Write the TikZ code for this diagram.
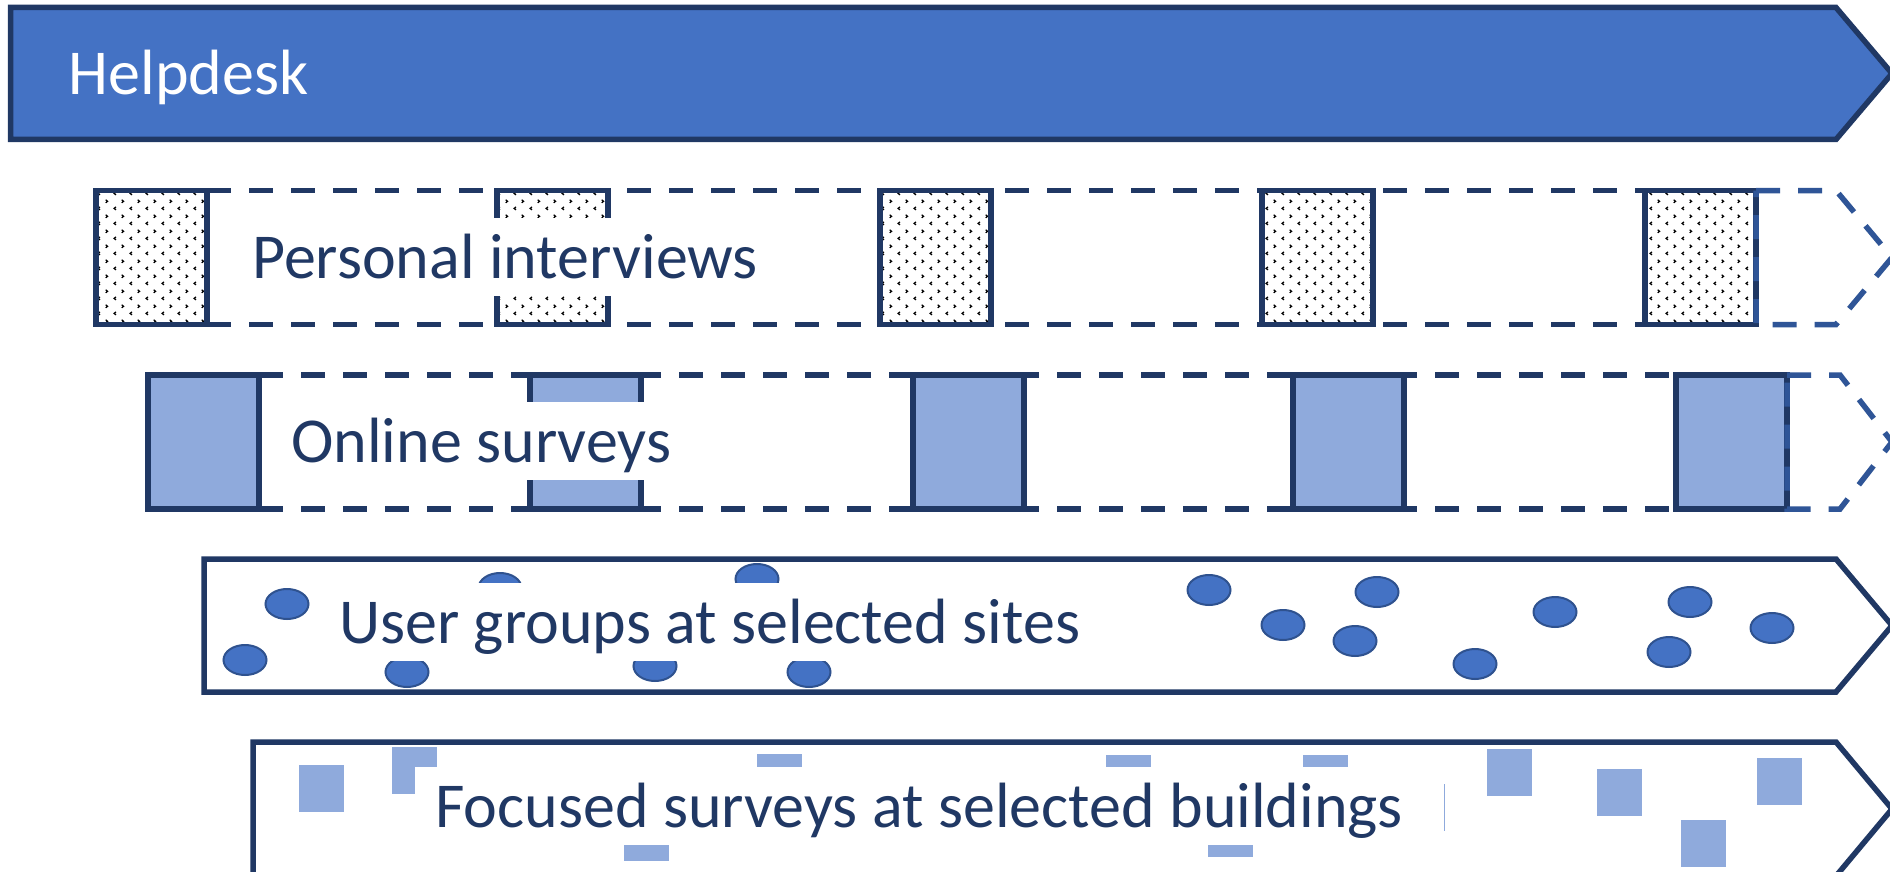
\documentclass[tikz,border=0pt]{standalone}
\usepackage{fontspec}
\setmainfont{Carlito}
\usetikzlibrary{patterns}

\definecolor{navy}{HTML}{203864}
\definecolor{hdblue}{HTML}{4472C4}
\definecolor{paleblue}{HTML}{8FAADC}
\definecolor{midblue}{HTML}{2F5597}
\definecolor{rimblue}{HTML}{2F528F}

% small chevron marks, staggered rows, for the interview slots
\pgfdeclarepatternformonly{specks}{\pgfqpoint{0pt}{0pt}}{\pgfqpoint{16pt}{15pt}}{\pgfqpoint{16pt}{15pt}}{%
  \pgfsetlinewidth{1.3pt}%
  \pgfsetmiterjoin
  \pgfpathmoveto{\pgfqpoint{4.2pt}{2.2pt}}%
  \pgfpathlineto{\pgfqpoint{2.2pt}{3.8pt}}%
  \pgfpathlineto{\pgfqpoint{4.2pt}{5.4pt}}%
  \pgfpathmoveto{\pgfqpoint{10.2pt}{9.7pt}}%
  \pgfpathlineto{\pgfqpoint{12.2pt}{11.3pt}}%
  \pgfpathlineto{\pgfqpoint{10.2pt}{12.9pt}}%
  \pgfusepath{stroke}%
}

\begin{document}
\begin{tikzpicture}[x=1pt,y=-1pt,
  lane/.style={draw=navy, line width=5.5pt},
  dashlane/.style={draw=navy, line width=5.5pt, dash pattern=on 24pt off 18pt},
  dashtip/.style={draw=midblue, line width=5.5pt, dash pattern=on 24pt off 18pt},
  speckbox/.style={draw=navy, line width=5.5pt, preaction={fill=white}, pattern=specks, pattern color=black},
  palebox/.style={draw=navy, line width=5.5pt, fill=paleblue},
  groupdot/.style={fill=hdblue, draw=rimblue, line width=2pt},
  siteblock/.style={fill=paleblue},
  bigfont/.style={font=\fontsize{64}{72}\selectfont},
  lanetext/.style={bigfont, fill=white, text=navy, anchor=base west,
    inner xsep=19pt, inner ysep=0pt, text height=60pt, text depth=18pt, align=flush left},
]
\useasboundingbox (0,0) rectangle (1890,872);
\clip (0,0) rectangle (1890,872);
\fill[white] (0,0) rectangle (1890,872);

% Helpdesk arrow
\draw[lane, fill=hdblue] (10.5,7.5) -- (1836,7.5) -- (1892,73.5) -- (1836,139.5) -- (10.5,139.5) -- cycle;
\node[bigfont, text=white, anchor=base west, inner sep=0pt] (helpdesk) at (68.5,95) {Helpdesk};

% Personal interviews lane
\draw[dashlane] (207,190.5) -- (1645,190.5);
\draw[dashlane] (207,324.5) -- (1645,324.5);
\draw[speckbox] (96,190.5) rectangle (207,324.5);
\draw[speckbox] (497,190.5) rectangle (608,324.5);
\draw[speckbox] (880,190.5) rectangle (991,324.5);
\draw[speckbox] (1262,190.5) rectangle (1373,324.5);
\draw[speckbox] (1645,190.5) rectangle (1756,324.5);
\draw[dashtip] (1756,190.5) -- (1836,190.5) -- (1892,257.5) -- (1836,324.5) -- (1756,324.5) -- cycle;
\node[lanetext, text width=529pt] (interviews) at (233,278) {Personal interviews};

% Online surveys lane
\draw[dashlane] (259,375) -- (1676,375);
\draw[dashlane] (259,509) -- (1676,509);
\draw[palebox] (148,375) rectangle (259,509);
\draw[palebox] (530,375) rectangle (641,509);
\draw[palebox] (913,375) rectangle (1024,509);
\draw[palebox] (1293,375) rectangle (1404,509);
\draw[palebox] (1676,375) rectangle (1787,509);
\draw[dashtip] (1787,375) -- (1840,375) -- (1892,442) -- (1840,509) -- (1787,509) -- cycle;
\node[lanetext, text width=461pt] (online) at (272,462) {Online surveys};

% User groups lane
\draw[lane] (204,559) -- (1836,559) -- (1892,625.5) -- (1836,692) -- (204,692) -- cycle;
\foreach \cx/\cy in {287/604, 245/660, 407/672, 500/588, 655/666, 757/579, 809/672,
  1209/590, 1283/625, 1377/592, 1355/641, 1475/664, 1555/612, 1690/602, 1669/652, 1772/628}
  \draw[groupdot] (\cx,\cy) ellipse [x radius=21.5, y radius=15];
\node[lanetext, text width=764pt] (usergroups) at (320,643) {User groups at selected sites};

% Focused surveys lane
\draw[lane] (253,742) -- (1836,742) -- (1892,809) -- (1836,876) -- (253,876) -- cycle;
\foreach \bx/\by in {299/765, 392/747, 757/754, 624/814, 1106/755, 1303/755, 1208/810,
  1400/784, 1487/749, 1597/769, 1681/820, 1757/758}
  \fill[siteblock] (\bx,\by) rectangle ++(45,47);
\node[lanetext, inner xsep=20pt, text width=988.5pt] (focused) at (415,827) {Focused surveys at selected buildings};
\end{tikzpicture}
\end{document}
